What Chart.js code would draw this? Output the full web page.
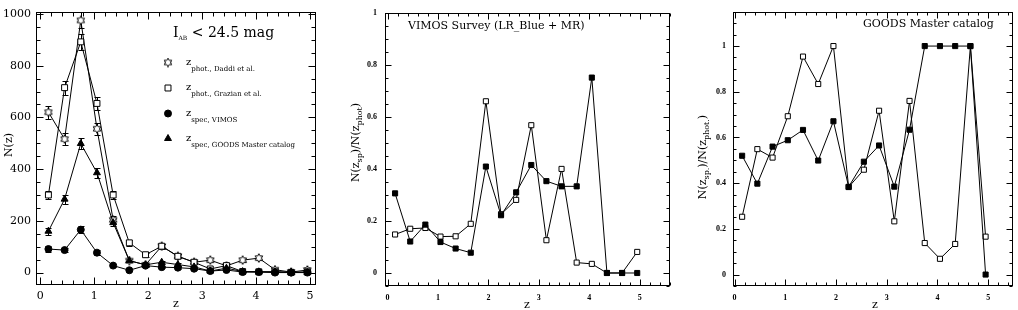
<!DOCTYPE html>
<html>
<head>
<meta charset="utf-8">
<title>N(z) and spectroscopic completeness</title>
<script src="https://cdn.jsdelivr.net/npm/chart.js@4.4.1/dist/chart.umd.min.js"></script>
<style>
  html, body { margin: 0; padding: 0; background: #fff; }
  #wrap { position: relative; width: 1018px; height: 310px; overflow: hidden; }
  canvas { position: absolute; top: 0; }
</style>
</head>
<body>
<div id="wrap">
  <canvas id="nzChart" width="330" height="310" style="left:0px"></canvas>
  <canvas id="vimosChart" width="340" height="310" style="left:340px"></canvas>
  <canvas id="goodsChart" width="338" height="310" style="left:680px"></canvas>
</div>
<script>
// redshift bin centres (0.3 wide bins)
const zBins = [0.15, 0.45, 0.75, 1.05, 1.35, 1.65, 1.95, 2.25, 2.55, 2.85, 3.15, 3.45, 3.75, 4.05, 4.35, 4.65, 4.95];

// left panel: number counts per bin
const nDaddi   = [620, 516, 975, 556, 204, 46, 30, 102, 63, 40, 48, 26, 48, 56, 11, 2, 10];
const nGrazian = [300, 715, 892, 654, 300, 115, 69, 102, 63, 40, 14, 27, 4, 3, 3, 1, 3];
const nVimos   = [91, 87, 166, 77, 27, 9, 27, 21, 19, 15, 6, 10, 2, 2, 0, 0, 0];
const nGoods   = [160, 284, 499, 386, 193, 46, 30, 40, 31, 22, 6, 17, 4, 3, 3, 1, 0];

// error bars
const errDaddi   = [25, 23, 31, 24, 14, 7, 5, 10, 8, 6, 7, 5, 7, 7, 3, 1, 3];
const errGrazian = [17, 27, 30, 26, 17, 11, 8, 10, 8, 6, 4, 5, 2, 2, 2, 1, 2];
const errVimos   = [10, 9, 13, 9, 5, 3, 5, 5, 4, 4, 2, 3, 1, 1, 0, 0, 0];
const errGoods   = [13, 17, 22, 20, 14, 7, 5, 6, 6, 5, 2, 4, 2, 2, 2, 1, 0];

// middle panel: VIMOS / photometric
const ratioVimosDaddi   = [0.148, 0.170, 0.173, 0.140, 0.141, 0.189, 0.660, 0.226, 0.281, 0.568, 0.126, 0.400, 0.040, 0.035, 0, 0, 0.081];
const ratioVimosGrazian = [0.306, 0.121, 0.186, 0.119, 0.094, 0.078, 0.409, 0.222, 0.310, 0.415, 0.353, 0.333, 0.333, 0.751, 0, 0, 0];

// right panel: GOODS master / photometric
const ratioGoodsDaddi   = [0.253, 0.549, 0.512, 0.693, 0.954, 0.834, 1.0, 0.383, 0.459, 0.717, 0.233, 0.760, 0.138, 0.069, 0.134, 1.0, 0.166];
const ratioGoodsGrazian = [0.520, 0.398, 0.560, 0.588, 0.633, 0.499, 0.671, 0.384, 0.494, 0.565, 0.385, 0.634, 1.0, 1.0, 1.0, 1.0, 0];

// tick labels
const zTicks = [0, 1, 2, 3, 4, 5];
const nTicks = [0, 200, 400, 600, 800, 1000];
const ratioTicks = [0, 0.2, 0.4, 0.6, 0.8, 1];

const SERIF = '"DejaVu Serif", "Liberation Serif", serif';

// open six-pointed star used for the Daddi et al. points
function makeStar(size) {
    const c = document.createElement('canvas');
    c.width = c.height = size;
    const g = c.getContext('2d');
    const cx = size / 2, cy = size / 2, ro = size / 2 - 0.7, ri = ro * 0.58;
    g.beginPath();
    for (let i = 0; i < 12; i++) {
        const r = i % 2 ? ri : ro;
        const a = -Math.PI / 2 + i * Math.PI / 6;
        const px = cx + r * Math.cos(a), py = cy + r * Math.sin(a);
        if (i === 0) g.moveTo(px, py); else g.lineTo(px, py);
    }
    g.closePath();
    g.fillStyle = '#fff';
    g.fill();
    g.strokeStyle = '#000';
    g.lineWidth = 1;
    g.stroke();
    return c;
}
const starImg = makeStar(10);

function toPoints(values) {
    return zBins.map((z, i) => ({ x: z, y: values[i] }));
}

// mixed-size text (subscripts) on the canvas
function drawRich(ctx, parts, x, y, center) {
    let w = 0;
    parts.forEach(p => {
        ctx.font = p[1] + 'px ' + SERIF;
        w += ctx.measureText(p[0]).width;
    });
    let cx = center ? x - w / 2 : x;
    parts.forEach(p => {
        ctx.font = p[1] + 'px ' + SERIF;
        ctx.fillText(p[0], cx, y + (p[2] || 0));
        cx += ctx.measureText(p[0]).width;
    });
}

// box frame with inward major/minor ticks on all four sides
const axesFrame = {
    id: 'axesFrame',
    afterDraw(chart, args, o) {
        const { ctx, chartArea: a, scales } = chart;
        const L = Math.round(a.left) + 0.5, R = Math.round(a.right) - 0.5;
        const T = Math.round(a.top) + 0.5, B = Math.round(a.bottom) - 0.5;
        ctx.save();
        ctx.strokeStyle = '#000';
        ctx.lineWidth = 1;
        ctx.strokeRect(L, T, R - L, B - T);
        ctx.beginPath();
        const each = (scale, step, fn) => {
            const k0 = Math.ceil(scale.min / step - 1e-6), k1 = Math.floor(scale.max / step + 1e-6);
            for (let k = k0; k <= k1; k++) fn(Math.round(scale.getPixelForValue(k * step)) + 0.5);
        };
        const xTick = len => px => {
            ctx.moveTo(px, B); ctx.lineTo(px, B - len);
            ctx.moveTo(px, T); ctx.lineTo(px, T + len);
        };
        const yTick = len => py => {
            ctx.moveTo(L, py); ctx.lineTo(L + len, py);
            ctx.moveTo(R, py); ctx.lineTo(R - len, py);
        };
        each(scales.x, o.minorX, xTick(o.minorLen));
        each(scales.y, o.minorY, yTick(o.minorLen));
        scales.x.ticks.forEach(t => xTick(o.majorLen)(Math.round(scales.x.getPixelForValue(t.value)) + 0.5));
        scales.y.ticks.forEach(t => yTick(o.majorLen)(Math.round(scales.y.getPixelForValue(t.value)) + 0.5));
        ctx.stroke();
        ctx.restore();
    }
};

// vertical error bars with caps
const errorBars = {
    id: 'errorBars',
    beforeDatasetsDraw(chart) {
        const { ctx, scales: { y } } = chart;
        ctx.save();
        ctx.strokeStyle = '#000';
        ctx.lineWidth = 1;
        ctx.beginPath();
        chart.data.datasets.forEach((ds, i) => {
            if (!ds.errors) return;
            chart.getDatasetMeta(i).data.forEach((pt, j) => {
                const e = ds.errors[j];
                if (!e) return;
                const v = ds.data[j].y;
                const px = Math.round(pt.x) + 0.5;
                const top = Math.round(y.getPixelForValue(v + e)) + 0.5;
                const bot = Math.round(y.getPixelForValue(v - e)) + 0.5;
                ctx.moveTo(px, top); ctx.lineTo(px, bot);
                ctx.moveTo(px - 3, top); ctx.lineTo(px + 3, top);
                ctx.moveTo(px - 3, bot); ctx.lineTo(px + 3, bot);
            });
        });
        ctx.stroke();
        ctx.restore();
    }
};

// axis titles, panel labels and the hand-placed legend
const annot = {
    id: 'annot',
    afterDraw(chart, args, o) {
        const ctx = chart.ctx;
        ctx.save();
        ctx.fillStyle = '#000';
        ctx.textBaseline = 'alphabetic';
        (o.texts || []).forEach(t => {
            if (t.rotate) {
                ctx.save();
                ctx.translate(t.x, t.y);
                ctx.rotate(-Math.PI / 2);
                drawRich(ctx, t.parts, 0, 0, true);
                ctx.restore();
            } else {
                drawRich(ctx, t.parts, t.x, t.y, t.center);
            }
        });
        const drawPoint = Chart.helpers && Chart.helpers.drawPoint;
        (o.markers || []).forEach(m => {
            if (!drawPoint) return;
            ctx.fillStyle = m.fill;
            ctx.strokeStyle = '#000';
            ctx.lineWidth = 1;
            drawPoint(ctx, { pointStyle: m.style, radius: m.radius, rotation: 0, borderWidth: 1 }, m.x, m.y);
        });
        ctx.restore();
    }
};

function series(values, style, fill, radius, errors) {
    return {
        data: toPoints(values),
        errors: errors,
        showLine: true,
        borderColor: '#000',
        borderWidth: 1,
        tension: 0,
        pointStyle: style,
        pointRadius: radius,
        pointBorderWidth: 1,
        pointBorderColor: '#000',
        pointBackgroundColor: fill
    };
}

function makeChart(id, datasets, s) {
    const tickFont = s.tickFont;
    return new Chart(document.getElementById(id), {
        type: 'scatter',
        data: { datasets },
        options: {
            responsive: false,
            devicePixelRatio: 1,
            animation: false,
            events: [],
            layout: { padding: { top: s.top, right: s.right, left: 0, bottom: 0 } },
            plugins: {
                legend: { display: false },
                tooltip: { enabled: false },
                axesFrame: s.frame,
                annot: { texts: s.texts, markers: s.markers }
            },
            scales: {
                x: {
                    type: 'linear',
                    min: s.xMin, max: s.xMax,
                    afterBuildTicks: sc => { sc.ticks = zTicks.map(v => ({ value: v })); },
                    afterFit: sc => { sc.height = s.xHeight; },
                    grid: { display: false, drawTicks: false },
                    border: { display: false },
                    ticks: { font: tickFont, color: '#000', padding: s.xPad, autoSkip: false, maxRotation: 0, callback: v => String(v) }
                },
                y: {
                    type: 'linear',
                    min: s.yMin, max: s.yMax,
                    afterBuildTicks: sc => { sc.ticks = s.yTicks.map(v => ({ value: v })); },
                    afterFit: sc => { sc.width = s.yWidth; },
                    grid: { display: false, drawTicks: false },
                    border: { display: false },
                    ticks: { font: tickFont, color: '#000', padding: s.yPad, autoSkip: false, callback: v => String(v) }
                }
            }
        },
        plugins: [errorBars, axesFrame, annot]
    });
}

const smallTicks = { family: '"Liberation Serif", serif', size: 8, weight: 'bold' };

// ---- left panel: N(z)
makeChart('nzChart', [
    series(nVimos, 'circle', '#000', 3.5, errVimos),
    series(nGoods, 'triangle', '#000', 4, errGoods),
    series(nGrazian, 'rect', '#fff', 4.2, errGrazian),
    series(nDaddi, starImg, '#fff', 5, errDaddi)
], {
    tickFont: { family: SERIF, size: 11 },
    xMin: -0.08, xMax: 5.11, yMin: -48, yMax: 1009, yTicks: nTicks,
    top: 5, right: 14, xHeight: 25, yWidth: 36, xPad: 5, yPad: 5,
    frame: { minorX: 0.2, minorY: 50, majorLen: 7, minorLen: 4 },
    texts: [
        { parts: [['N(z)', 11]], x: 12, y: 145, rotate: true },
        { parts: [['z', 11]], x: 176, y: 307, center: true },
        { parts: [['I', 14], ['AB', 6, 3], [' < 24.5 mag', 14]], x: 173, y: 37 },
        { parts: [['z', 10], ['phot., Daddi et al.', 7, 6]], x: 186, y: 65 },
        { parts: [['z', 10], ['phot., Grazian et al.', 7, 6]], x: 186, y: 90 },
        { parts: [['z', 10], ['spec, VIMOS', 7, 6]], x: 186, y: 116 },
        { parts: [['z', 10], ['spec, GOODS Master catalog', 7, 6]], x: 186, y: 141 }
    ],
    markers: [
        { style: starImg, radius: 5, fill: '#fff', x: 168, y: 62.5 },
        { style: 'rect', radius: 4.2, fill: '#fff', x: 168, y: 88 },
        { style: 'circle', radius: 3.5, fill: '#000', x: 168, y: 113.5 },
        { style: 'triangle', radius: 4, fill: '#000', x: 168, y: 138.5 }
    ]
});

// ---- middle panel: VIMOS survey
makeChart('vimosChart', [
    series(ratioVimosGrazian, 'rect', '#000', 3.6),
    series(ratioVimosDaddi, 'rect', '#fff', 3.6)
], {
    tickFont: smallTicks,
    xMin: -0.05, xMax: 5.6, yMin: -0.05, yMax: 1.0, yTicks: ratioTicks,
    top: 2, right: 10, xHeight: 24, yWidth: 45, xPad: 7, yPad: 8,
    frame: { minorX: 0.2, minorY: 0.05, majorLen: 6, minorLen: 3 },
    texts: [
        { parts: [['N(z', 11], ['sp', 8, 3.5], [')/N(z', 11], ['phot', 8, 3.5], [')', 11]], x: 18.5, y: 142.5, rotate: true },
        { parts: [['z', 11]], x: 187, y: 308, center: true },
        { parts: [['VIMOS Survey (LR_Blue + MR)', 11]], x: 68, y: 29 }
    ]
});

// ---- right panel: GOODS master catalog
makeChart('goodsChart', [
    series(ratioGoodsGrazian, 'rect', '#000', 3.6),
    series(ratioGoodsDaddi, 'rect', '#fff', 3.6)
], {
    tickFont: smallTicks,
    xMin: -0.03, xMax: 5.49, yMin: -0.05, yMax: 1.15, yTicks: ratioTicks,
    top: 2, right: 1, xHeight: 24, yWidth: 53, xPad: 7, yPad: 7,
    frame: { minorX: 0.2, minorY: 0.05, majorLen: 6, minorLen: 3 },
    texts: [
        { parts: [['N(z', 11], ['sp.', 8, 3.5], [')/N(z', 11], ['phot.', 8, 3.5], [')', 11]], x: 25.5, y: 157, rotate: true },
        { parts: [['z', 11]], x: 195, y: 308, center: true },
        { parts: [['GOODS Master catalog', 11]], x: 183, y: 27 }
    ]
});
</script>
</body>
</html>
